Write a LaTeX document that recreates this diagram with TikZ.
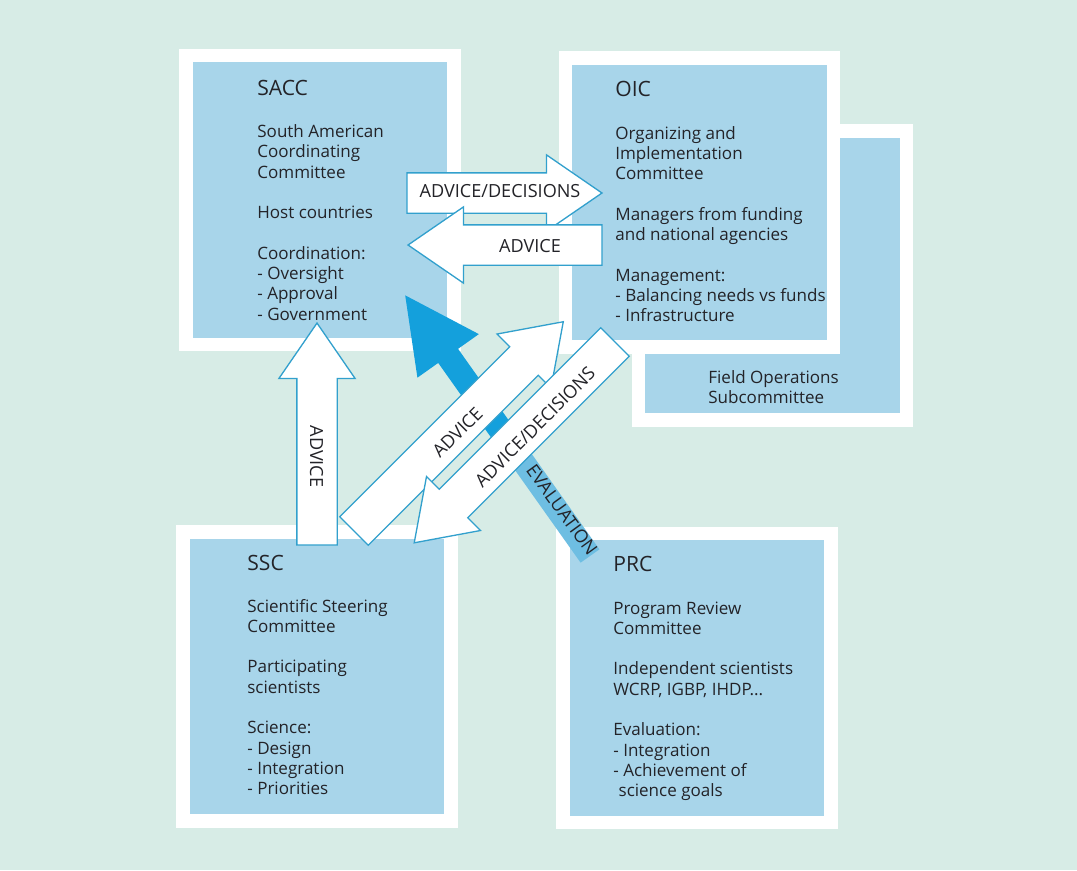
\documentclass[tikz,border=0pt]{standalone}
\usepackage{xcolor}
\usepackage{fontspec}
\setmainfont{Open Sans}
\usepackage{tikz}
\usetikzlibrary{shapes.arrows}

\definecolor{bgmint}{RGB}{215,236,230}
\definecolor{boxblue}{RGB}{168,213,234}
\definecolor{edgeblue}{RGB}{50,160,205}
\definecolor{deepblue}{RGB}{20,160,220}
\definecolor{evalblue}{RGB}{110,190,226}
\definecolor{inkgrey}{RGB}{35,35,40}

\begin{document}
\begin{tikzpicture}[x=0.02cm, y=-0.02cm,
    cbox/.style={fill=boxblue, draw=white, line width=0.27cm, minimum width=5.36cm, minimum height=5.79cm, inner sep=0pt, outer sep=0pt},
    ctitle/.style={anchor=base west, inner sep=0pt, font=\fontsize{12}{14}\selectfont, text=inkgrey},
    ctext/.style={anchor=base west, inner sep=0pt, align=left, font=\fontsize{9.7}{11.55}\selectfont, text=inkgrey},
    blockarrow/.style={shape=single arrow, fill=white, draw=edgeblue, line width=0.75pt, inner xsep=0pt, inner ysep=0.39cm, single arrow head extend=0.36cm, single arrow tip angle=69, outer sep=0pt, anchor=tail},
    alabel/.style={inner sep=0pt, font=\fontsize{10.3}{12}\selectfont, text=inkgrey}]

             \useasboundingbox (0,0) rectangle (1077,870);
             \fill[bgmint] (0,0) rectangle (1077,870);

             \node[cbox] (fos) at (772.5,275.5) {};
             \node[cbox] (oic) at (699.5,202.5) {};
             \node[cbox] (sacc) at (320,200) {};
             \node[cbox] (ssc) at (317,676.5) {};
             \node[cbox] (prc) at (697,678) {};

             \node[ctitle] (sacc-t) at (257,95) {SACC};
             \node[ctext] (sacc-b) at (257,320.2) {South American\\Coordinating\\Committee\\[11.55pt]Host countries\\[11.55pt]Coordination:\\- Oversight\\- Approval\\- Government};

             \node[ctitle] (oic-t) at (615,96.5) {OIC};
             \node[ctext] (oic-b) at (615,321.7) {Organizing and\\Implementation\\Committee\\[11.55pt]Managers from funding\\and national agencies\\[11.55pt]Management:\\- Balancing needs vs funds\\- Infrastructure};

             \node[ctext] (fos-b) at (708,403.3) {Field Operations\\Subcommittee};

             \node[ctitle] (ssc-t) at (247,570) {SSC};
             \node[ctext] (ssc-b) at (247,794.7) {Scientific Steering\\Committee\\[11.55pt]Participating\\scientists\\[11.55pt]Science:\\- Design\\- Integration\\- Priorities};

             \node[ctitle] (prc-t) at (613,571.5) {PRC};
             \node[ctext] (prc-b) at (613,796.7) {Program Review\\Committee\\[11.55pt]Independent scientists\\WCRP, IGBP, IHDP...\\[11.55pt]Evaluation:\\- Integration\\- Achievement of\\\hspace*{3pt}science goals};

             \coordinate (ev-end) at (590,556);
             \coordinate (ev-mid) at (511.6,445.4);
             \draw[evalblue, line width=0.46cm] (ev-mid) -- (ev-end);
             \node[blockarrow, fill=deepblue, draw=none, rotate=125.34, minimum height=3.68cm, inner ysep=0.23cm, single arrow head extend=0.51cm, single arrow tip angle=53.8] (evhead) at (ev-mid) {};
             \node[alabel, rotate=-54] (ev-l) at (562,510) {EVALUATION};

             \node[blockarrow, minimum height=3.9cm] (advdecH) at (407,193) {};
             \node[alabel] (advdecH-l) at (500,191.5) {ADVICE/DECISIONS};
             \node[blockarrow, rotate=180, minimum height=3.88cm] (advH) at (602,245) {};
             \node[alabel] (advH-l) at (530,246) {ADVICE};

             \node[blockarrow, rotate=90, minimum height=4.44cm] (advV) at (317,545) {};
             \node[alabel, rotate=-90] (advV-l) at (316.5,456.5) {ADVICE};

             \node[blockarrow, rotate=45, minimum height=5.92cm] (advD) at (354,531) {};
             \node[alabel, rotate=45] (advD-l) at (457.5,432.5) {ADVICE};
             \node[blockarrow, rotate=225, minimum height=5.68cm] (advdecD) at (615,342) {};
             \node[alabel, rotate=45] (advdecD-l) at (535,427) {ADVICE/DECISIONS};

\end{tikzpicture}
\end{document}
